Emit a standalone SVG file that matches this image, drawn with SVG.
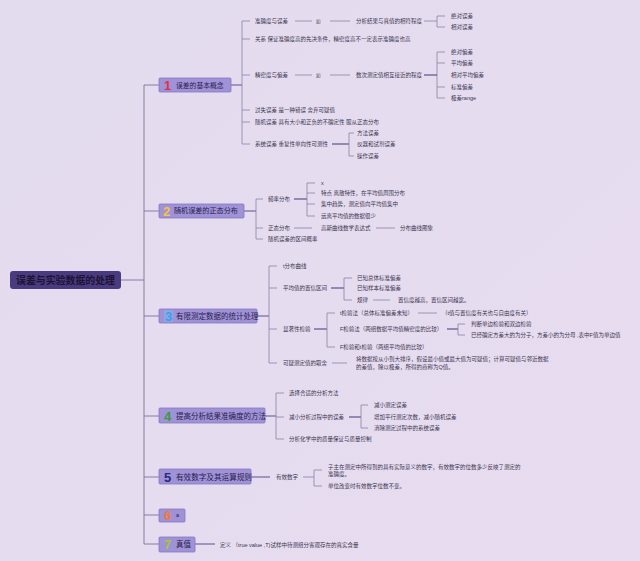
<svg xmlns="http://www.w3.org/2000/svg" width="640" height="561" viewBox="0 0 640 561">
<defs>
<linearGradient id="bg" x1="0" y1="0" x2="1" y2="1">
<stop offset="0" stop-color="#e3dcee"/>
<stop offset="1" stop-color="#e8dcf0"/>
</linearGradient>
</defs>
<style>
text{font-family:"Liberation Sans","Noto Sans CJK SC",sans-serif;dominant-baseline:central}
.t{font-size:5.5px;fill:#3a3450}
.box{fill:#a092d6;stroke:#8676c4;stroke-width:0.8}
.bl{font-size:7.5px;fill:#2a2050}
.num{font-size:13px;font-weight:bold}
.ln{fill:none;stroke:#8a82a6;stroke-width:0.8}
.mln{fill:none;stroke:#5e508e;stroke-width:1.2}
.trunk{fill:none;stroke:#7a729a;stroke-width:0.9}
</style>
<rect width="640" height="561" fill="url(#bg)"/>
<g id="connectors">
<path class="trunk" d="M121,280H144M144,85V544M144,85H159M144,211H159M144,316H159M144,416H159M144,477H159M144,515H159M144,544H159"/>
<path class="mln" d="M230,85H242M244,211H256M257,316H269M265,416H276M251,477H270M195,544H215"/>
<path class="ln" d="M242,21V144M242,21H250M242,39H250M242,75H250M242,110H250M242,122H250M242,144H250"/>
<path class="ln" d="M295,21H312M330,21H350M424,21H437M437,16V27M437,16H445M437,27H445"/>
<path class="ln" d="M295,75H312M330,75H350M437,52V98M437,52H445M437,63H445M437,87H445M437,98H445"/>
<path class="mln" d="M424,75H437"/>
<path class="mln" d="M332,144H349"/>
<path class="ln" d="M349,133V156M349,133H354M349,156H354"/>
<path class="ln" d="M256,199V239M256,199H263M256,228H263M256,239H263"/>
<path class="mln" d="M294,199H307"/>
<path class="ln" d="M307,183V216M307,183H315M307,193H315M307,204H315M307,216H315M294,228H312M376,228H395"/>
<path class="ln" d="M269,266V363M269,266H277M269,288H277M269,329H277M269,363H277"/>
<path class="mln" d="M331,288H344"/>
<path class="ln" d="M344,278V300M344,278H352M344,300H352M373,300H390"/>
<path class="mln" d="M314,329H327"/>
<path class="ln" d="M327,313V347M327,313H335M327,347H335M418,313H437"/>
<path class="mln" d="M447,329H458"/>
<path class="ln" d="M458,324V335M458,324H465M458,335H465M332,363H347"/>
<path class="ln" d="M276,393V439M276,393H284M276,417H284M276,439H284"/>
<path class="mln" d="M349,417H361"/>
<path class="ln" d="M361,405V428M361,405H368M361,428H368"/>
<path class="ln" d="M303,477H314M314,470V486M314,470H322M314,486H322"/>
</g>
<g id="root">
<rect x="10" y="271" width="111" height="18" rx="3" fill="#4a3a7e"/>
<text x="16" y="280" textLength="99" lengthAdjust="spacingAndGlyphs" style="font-size:10.5px;font-weight:bold;fill:#1c1436">误差与实验数据的处理</text>
</g>
<g id="s1">
<rect class="box" x="159" y="78" width="72" height="14" rx="1"/>
<text class="num" x="164" y="85" fill="#e0304a">1</text>
<text class="bl" x="176" y="85" style="font-size:6.8px">误差的基本概念</text>
</g>
<g id="s1-children">
<text class="t" x="255" y="21">准确度与误差</text>
<text class="t" x="316" y="21" style="font-size:4.5px">如</text>
<text class="t" x="356" y="21">分析结果与真值的相符程度</text>
<text class="t" x="451" y="16">绝对误差</text>
<text class="t" x="451" y="27">相对误差</text>
<text class="t" x="255" y="39">关系 保证准确度高的先决条件，精密度高不一定表示准确度也高</text>
<text class="t" x="255" y="75">精密度与偏差</text>
<text class="t" x="316" y="75" style="font-size:4.5px">如</text>
<text class="t" x="356" y="75">数次测定值相互接近的程度</text>
<text class="t" x="451" y="52">绝对偏差</text>
<text class="t" x="451" y="63">平均偏差</text>
<text class="t" x="451" y="75">相对平均偏差</text>
<text class="t" x="451" y="87">标准偏差</text>
<text class="t" x="451" y="98">极差range</text>
<text class="t" x="255" y="110">过失误差 是一种错误 舍弃可疑值</text>
<text class="t" x="255" y="122">随机误差 具有大小和正负的不确定性 服从正态分布</text>
<text class="t" x="255" y="144">系统误差 重复性单向性可测性</text>
<text class="t" x="357" y="133">方法误差</text>
<text class="t" x="357" y="144">仪器和试剂误差</text>
<text class="t" x="357" y="156">操作误差</text>
</g>
<g id="s2">
<rect class="box" x="159" y="204" width="85" height="14" rx="1"/>
<text class="num" x="163" y="211" fill="#f5c542">2</text>
<text class="bl" x="174" y="211" style="font-size:7.1px">随机误差的正态分布</text>
</g>
<g id="s2-children">
<text class="t" x="268" y="199">频率分布</text>
<text class="t" x="321" y="183">x</text>
<text class="t" x="321" y="193">特点 离散特性，在平均值周围分布</text>
<text class="t" x="321" y="204">集中趋势，测定值向平均值集中</text>
<text class="t" x="321" y="216">远离平均值的数据很少</text>
<text class="t" x="268" y="228">正态分布</text>
<text class="t" x="321" y="228">高斯曲线数学表达式</text>
<text class="t" x="400" y="228">分布曲线图象</text>
<text class="t" x="268" y="239">随机误差的区间概率</text>
</g>
<g id="s3">
<rect class="box" x="159" y="309" width="98" height="14" rx="1"/>
<rect x="164" y="310" width="9" height="12" fill="#8fa6e6"/>
<text class="num" x="165" y="316" fill="#3aa0e8">3</text>
<text class="bl" x="176" y="316" style="font-size:7.5px">有限测定数据的统计处理</text>
</g>
<g id="s3-children">
<text class="t" x="283" y="266">t分布曲线</text>
<text class="t" x="283" y="288">平均值的置信区间</text>
<text class="t" x="357" y="278">已知总体标准偏差</text>
<text class="t" x="357" y="288">已知样本标准偏差</text>
<text class="t" x="357" y="300">规律</text>
<text class="t" x="398" y="300">置信度越高，置信区间越宽。</text>
<text class="t" x="283" y="329">显著性检验</text>
<text class="t" x="340" y="313">t检验法（总体标准偏差未知）</text>
<text class="t" x="442" y="313">（t值与置信度有关也与自由度有关）</text>
<text class="t" x="340" y="329">F检验法（两组数据平均值精密度的比较）</text>
<text class="t" x="471" y="324">判断单边检验和双边检验</text>
<text class="t" x="471" y="335">已经确定方差大的为分子，方差小的为分母 ,表中F值为单边值</text>
<text class="t" x="340" y="347">F检验和t检验（两组平均值的比较）</text>
<text class="t" x="283" y="363">可疑测定值的取舍</text>
<text class="t" x="356" y="359">将数据按从小到大排序，假设最小值或最大值为可疑值；计算可疑值与邻近数据</text>
<text class="t" x="356" y="367">的差值，除以极差，所得的商称为Q值。</text>
</g>
<g id="s4">
<rect class="box" x="159" y="408" width="106" height="15" rx="1"/>
<text class="num" x="164" y="416" fill="#3a9a3a">4</text>
<text class="bl" x="176" y="416" style="font-size:7.5px">提高分析结果准确度的方法</text>
</g>
<g id="s4-children">
<text class="t" x="289" y="393">选择合适的分析方法</text>
<text class="t" x="289" y="417">减小分析过程中的误差</text>
<text class="t" x="374" y="405">减小测定误差</text>
<text class="t" x="374" y="417">增加平行测定次数，减小随机误差</text>
<text class="t" x="374" y="428">消除测定过程中的系统误差</text>
<text class="t" x="289" y="439">分析化学中的质量保证与质量控制</text>
</g>
<g id="s5">
<rect class="box" x="159" y="469" width="92" height="15" rx="1"/>
<text class="num" x="164" y="477" fill="#2a2a7a">5</text>
<text class="bl" x="176" y="477" style="font-size:7.6px">有效数字及其运算规则</text>
</g>
<g id="s5-children">
<text class="t" x="276" y="477">有效数字</text>
<text class="t" x="328" y="467">子主在测定中所得到的具有实际意义的数字，有效数字的位数多少反映了测定的</text>
<text class="t" x="328" y="474">准确度。</text>
<text class="t" x="328" y="486">单位改变时有效数字位数不变。</text>
</g>
<g id="s6">
<rect class="box" x="159" y="509" width="26" height="13" rx="1"/>
<text class="num" x="164" y="515.5" fill="#f07a30">6</text>
<text class="t" x="176" y="515" style="fill:#2a2050">a</text>
</g>
<g id="s7">
<rect class="box" x="159" y="537" width="36" height="15" rx="1"/>
<text class="num" x="164" y="544.5" fill="#a8c830">7</text>
<text class="bl" x="176" y="544.5">真值</text>
</g>
<g id="s7-children">
<text class="t" x="220" y="545">定义 （true value ,T)试样中待测组分客观存在的真实含量</text>
</g>
</svg>
